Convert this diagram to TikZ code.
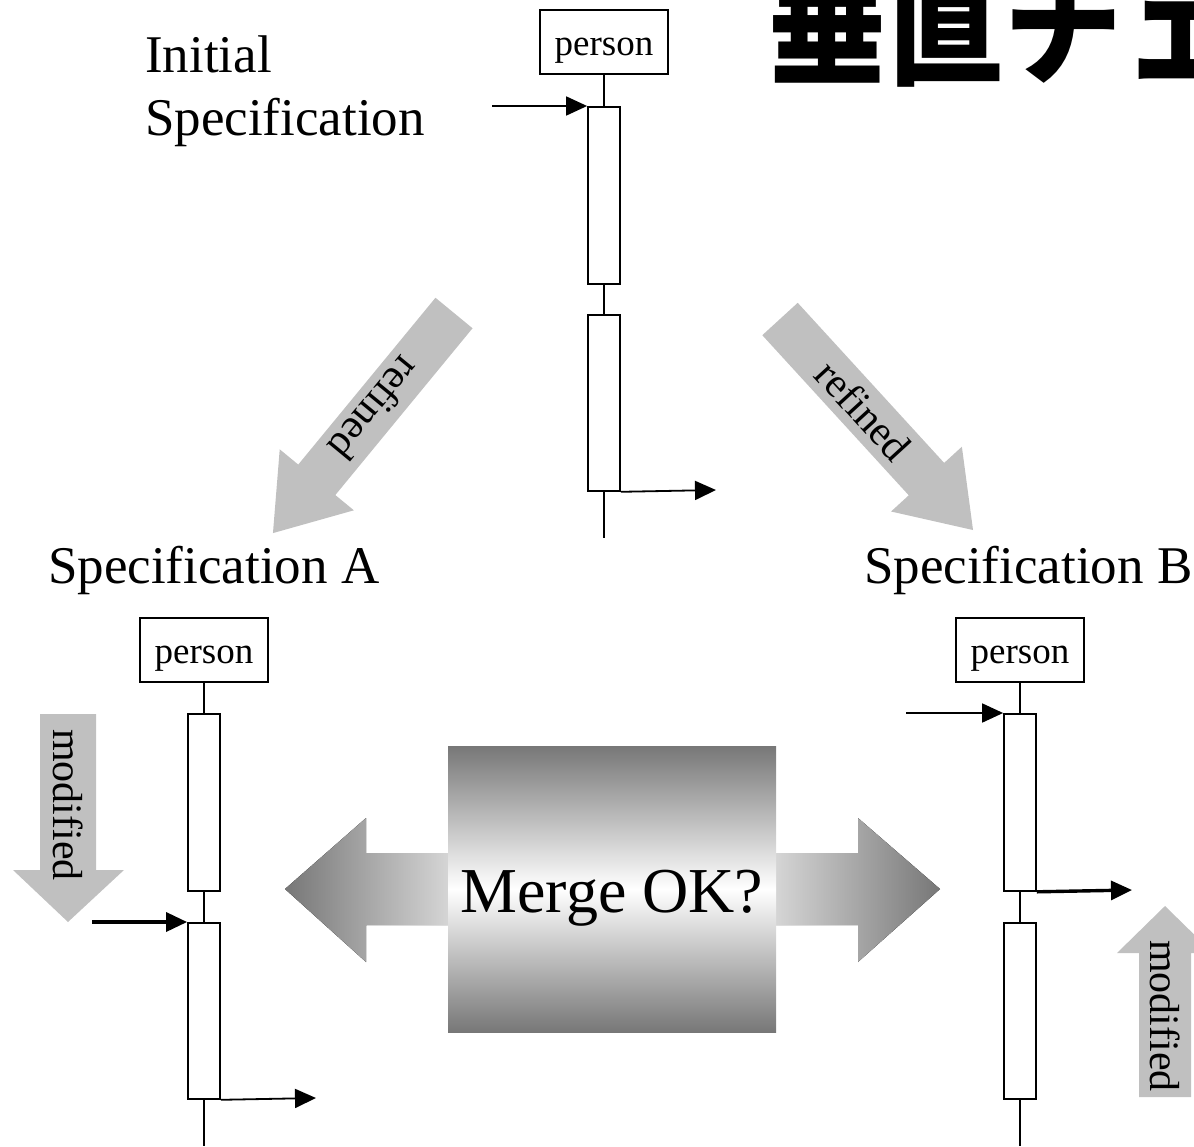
\documentclass[tikz,border=0pt]{standalone}
\usepackage{fontspec}
\setmainfont{Liberation Serif}
\newfontfamily\cjk{Noto Sans CJK JP}
\usetikzlibrary{arrows.meta}
\definecolor{arrowgrey}{HTML}{C0C0C0}
\definecolor{mergedark}{HTML}{777777}
\definecolor{mergelight}{HTML}{D6D6D6}
\tikzset{
  persbox/.style={draw,line width=1.8pt,fill=white,minimum width=128pt,minimum height=64pt,inner sep=0pt,text height=30pt,text depth=4pt,font=\fontsize{37}{40}\selectfont},
  actbox/.style={draw,line width=1.8pt,fill=white,minimum width=32pt,minimum height=177pt,inner sep=0pt,anchor=north},
  lifeline/.style={line width=1.8pt},
  msg/.style={line width=1.8pt,-{Triangle[length=21pt,width=19pt]}},
  thickmsg/.style={msg,line width=3.4pt},
  greyarrow/.style={fill=arrowgrey},
  arrowtext/.style={font=\fontsize{42}{46}\selectfont,inner sep=0pt},
  spectext/.style={font=\fontsize{53}{63}\selectfont,inner sep=0pt},
}

\begin{document}
\begin{tikzpicture}[x=1pt,y=-1pt]
      \useasboundingbox (0,0) rectangle (1194,1146);
      \clip (0,0) rectangle (1194,1146);

      % title
      \node (title) [anchor=base west,inner sep=0pt,yscale=1.12,font=\cjk\bfseries\fontsize{118}{118}\selectfont] at (768,74) {垂直チェ};

      % spec labels
      \node (initspec) [spectext,align=left,anchor=north west] at (145,36) {Initial\\Specification};
      \node (speca) [spectext,anchor=base west] at (48,583) {Specification A};
      \node (specb) [spectext,anchor=base west] at (864,583) {Specification B};

      % refined arrows
      \begin{scope}[shift={(454,313)},rotate=230.56]
        \fill[greyarrow] (0,-24) -- (216,-24) -- (216,-48) -- (285,0) -- (216,48) -- (216,24) -- (0,24) -- cycle;
        \node (refa) [arrowtext,rotate=230.56] at (124,0) {refined};
      \end{scope}
      \begin{scope}[shift={(780,319)},rotate=-47.55]
        \fill[greyarrow] (0,-24) -- (217,-24) -- (217,-48) -- (286,0) -- (217,48) -- (217,24) -- (0,24) -- cycle;
        \node (refb) [arrowtext,rotate=-47.55] at (124,0) {refined};
      \end{scope}

      % modified arrows
      \fill[greyarrow] (40,714) -- (96,714) -- (96,870) -- (124,870) -- (68,922) -- (13,870) -- (40,870) -- cycle;
      \node (moda) [arrowtext,rotate=-90] at (68,805) {modified};
      \fill[greyarrow] (1139,1097) -- (1191,1097) -- (1191,953) -- (1213,953) -- (1165,906) -- (1117,953) -- (1139,953) -- cycle;
      \node (modb) [arrowtext,rotate=-90] at (1165,1016) {modified};

      % merge
      \fill[left color=mergedark,right color=mergelight] (285,889) -- (366,818) -- (366,853) -- (450,853) -- (450,925) -- (366,925) -- (366,962) -- cycle;
      \fill[left color=mergelight,right color=mergedark] (940,889) -- (858,818) -- (858,853) -- (774,853) -- (774,925) -- (858,925) -- (858,962) -- cycle;
      \node (merge) [minimum width=328pt,minimum height=286pt,inner sep=0pt,top color=mergedark,bottom color=mergedark,middle color=white] at (612,889) {};
      \node (mergetext) [font=\fontsize{64}{70}\selectfont,anchor=base,inner sep=0pt] at (612,912) {Merge OK?};

      % initial specification
      \node (tperson) [persbox] at (604,42) {person};
      \node (tact1) [actbox] at (604,106) {};
      \node (tact2) [actbox,minimum height=176pt] at (604,314) {};
      \coordinate (tend) at (604,538);
      \coordinate (tin) at (492,106);
      \coordinate (tout) at (716,490);
      \draw[lifeline] (tperson.south) -- (tact1.north);
      \draw[lifeline] (tact1.south) -- (tact2.north);
      \draw[lifeline] (tact2.south) -- (tend);
      \draw[msg] (tin) -- (tact1.north west);
      \draw[msg] (tact2.south east) -- (tout);

      % specification A
      \node (aperson) [persbox] at (204,650) {person};
      \node (aact1) [actbox] at (204,713) {};
      \node (aact2) [actbox,minimum height=176pt] at (204,922) {};
      \coordinate (aend) at (204,1146);
      \coordinate (ain) at (92,922);
      \coordinate (aout) at (316,1098);
      \draw[lifeline] (aperson.south) -- (aact1.north);
      \draw[lifeline] (aact1.south) -- (aact2.north);
      \draw[lifeline] (aact2.south) -- (aend);
      \draw[thickmsg] (ain) -- (aact2.north west);
      \draw[msg] (aact2.south east) -- (aout);

      % specification B
      \node (bperson) [persbox] at (1020,650) {person};
      \node (bact1) [actbox] at (1020,713) {};
      \node (bact2) [actbox,minimum height=176pt] at (1020,922) {};
      \coordinate (bend) at (1020,1146);
      \coordinate (bin) at (906,713);
      \coordinate (bout) at (1132,890);
      \draw[lifeline] (bperson.south) -- (bact1.north);
      \draw[lifeline] (bact1.south) -- (bact2.north);
      \draw[lifeline] (bact2.south) -- (bend);
      \draw[msg] (bin) -- (bact1.north west);
      \draw[thickmsg] (bact1.south east) -- (bout);
\end{tikzpicture}
\end{document}
